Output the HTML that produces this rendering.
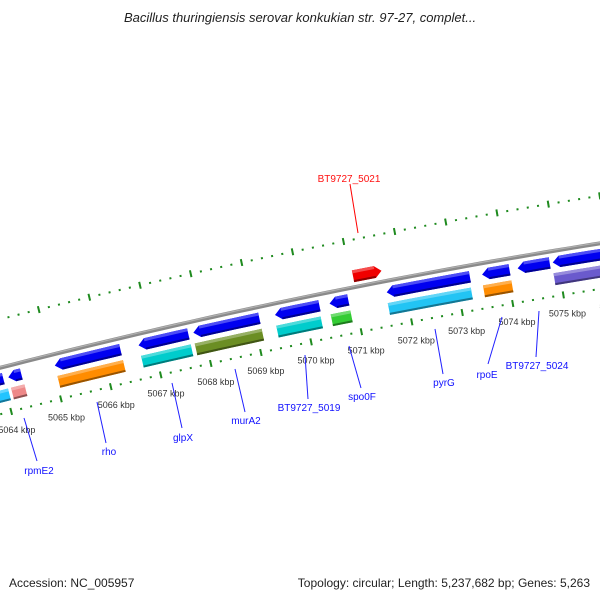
<!DOCTYPE html>
<html><head><meta charset="utf-8"><style>
html,body{margin:0;padding:0;background:#fff;}
svg{display:block;font-family:"Liberation Sans","DejaVu Sans",sans-serif;}
</style></head><body>
<svg id="map" width="600" height="600" viewBox="0 0 600 600" xmlns="http://www.w3.org/2000/svg">
<rect width="600" height="600" fill="#fff"/>
<text x="300" y="22" text-anchor="middle" font-size="13" font-style="italic" fill="#222">Bacillus thuringiensis serovar konkukian str. 97-27, complet...</text>
<g id="ticks"></g>
<g id="backbone"></g>
<g id="genes"></g>
<g id="labels" font-size="10" fill="#1010ff">
  <line x1="24" y1="418" x2="37" y2="461" stroke="#2020ff" stroke-width="1"/>
  <text x="39" y="474" text-anchor="middle">rpmE2</text>
  <line x1="97" y1="402" x2="106" y2="443" stroke="#2020ff" stroke-width="1"/>
  <text x="109" y="455" text-anchor="middle">rho</text>
  <line x1="172" y1="383" x2="182" y2="428" stroke="#2020ff" stroke-width="1"/>
  <text x="183" y="441" text-anchor="middle">glpX</text>
  <line x1="235" y1="369" x2="245" y2="412" stroke="#2020ff" stroke-width="1"/>
  <text x="246" y="424" text-anchor="middle">murA2</text>
  <line x1="305" y1="355" x2="308" y2="399" stroke="#2020ff" stroke-width="1"/>
  <text x="309" y="411" text-anchor="middle">BT9727_5019</text>
  <line x1="349" y1="346" x2="361" y2="388" stroke="#2020ff" stroke-width="1"/>
  <text x="362" y="400" text-anchor="middle">spo0F</text>
  <line x1="435" y1="329" x2="443" y2="374" stroke="#2020ff" stroke-width="1"/>
  <text x="444" y="386" text-anchor="middle">pyrG</text>
  <line x1="502" y1="317" x2="488" y2="364" stroke="#2020ff" stroke-width="1"/>
  <text x="487" y="378" text-anchor="middle">rpoE</text>
  <line x1="539" y1="311" x2="536" y2="357" stroke="#2020ff" stroke-width="1"/>
  <text x="537" y="369" text-anchor="middle">BT9727_5024</text>
  <line x1="350" y1="184" x2="358" y2="233" stroke="#ff0000" stroke-width="1"/>
  <text x="349" y="182" text-anchor="middle" fill="#ff1010">BT9727_5021</text>
</g>
<text x="9" y="587" font-size="12" fill="#222">Accession: NC_005957</text>
<text x="590" y="587" font-size="12" fill="#222" text-anchor="end">Topology: circular; Length: 5,237,682 bp; Genes: 5,263</text>
</svg>
<script>
// ---- data (kbp) ----
const revStarts = [5063.4, 5064.11, 5065.04, 5066.71, 5067.80, 5069.42, 5070.50, 5071.63, 5073.51, 5074.21, 5074.90];
const revEnds   = [5064.01, 5064.37, 5066.35, 5067.70, 5069.11, 5070.30, 5070.87, 5073.27, 5074.05, 5074.84, 5076.3];
const featStarts = [5063.4, 5064.11, 5065.04, 5066.71, 5067.78, 5069.40, 5070.48, 5071.61, 5073.49, 5074.88];
const featEnds   = [5064.05, 5064.38, 5066.35, 5067.70, 5069.11, 5070.28, 5070.87, 5073.25, 5074.05, 5076.3];
const featColors = ['#22c4ff','#ee8888','#ff8c00','#00cccc','#6b8e23','#00cccc','#33cc33','#22c4f4','#ff8c00','#6a5acd'];
const fwdStarts = [5071.05];
const fwdEnds   = [5071.61];
const tickLabels = [5064,5065,5066,5067,5068,5069,5070,5071,5072,5073,5074,5075,5076];

// ---- geometry ----
const NS = 'http://www.w3.org/2000/svg';
const CX = 1619, CY = 6663, RB = 6500;
function ang(k){ return (-101.69 + 0.4555*(k-5070))*Math.PI/180; }
function pt(k,d){ const a=ang(k), r=RB-d; return [CX+r*Math.cos(a), CY+r*Math.sin(a)]; }
function mk(tag, parent){ const e=document.createElementNS(NS,tag); parent.appendChild(e); return e; }
function poly(points, fill, parent){
  const p=mk('polygon',parent);
  p.setAttribute('points', points.map(q=>q[0].toFixed(2)+','+q[1].toFixed(2)).join(' '));
  p.setAttribute('fill', fill);
  return p;
}
function arcPts(k0,k1,d){ const n=Math.max(2,Math.ceil((k1-k0)*4)); const out=[]; for(let i=0;i<=n;i++) out.push(pt(k0+(k1-k0)*i/n,d)); return out; }
function shade(hex,f){
  const n=parseInt(hex.slice(1),16); let r=n>>16,g=(n>>8)&255,b=n&255;
  if(f>0){ r+= (255-r)*f; g+=(255-g)*f; b+=(255-b)*f; } else { r*=1+f; g*=1+f; b*=1+f; }
  return 'rgb('+Math.round(r)+','+Math.round(g)+','+Math.round(b)+')';
}
const AH = 0.13;
function feature(k0,k1,d0,d1,color,dir,name){
  const g=mk('g',document.getElementById('genes'));
  
  
  let shape, b0=k0, b1=k1;
  if(dir<0){ b0=k0+AH; shape=[pt(k0,(d0+d1)/2)].concat(arcPts(b0,k1,d0)).concat(arcPts(b0,k1,d1).reverse()); }
  else if(dir>0){ b1=k1-AH; shape=arcPts(k0,b1,d0).concat([pt(k1,(d0+d1)/2)]).concat(arcPts(k0,b1,d1).reverse()); }
  else { shape=arcPts(k0,k1,d0).concat(arcPts(k0,k1,d1).reverse()); }
  poly(shape,color,g);
  poly(arcPts(b0,b1,d0).concat(arcPts(b0,b1,d0+3).reverse()), shade(color,0.3), g);
  poly(arcPts(b0,b1,d1-2).concat(arcPts(b0,b1,d1).reverse()), shade(color,-0.4), g);
}

// backbone
(function(){
  const g=document.getElementById('backbone');
  const a=arcPts(5062.5,5077.5,-2), b=arcPts(5062.5,5077.5,2);
  poly(a.concat(b.slice().reverse()), '#8a8a8a', g);
  const c=arcPts(5062.5,5077.5,-1.5), d=arcPts(5062.5,5077.5,-0.3);
  poly(c.concat(d.reverse()), '#b0b0b0', g);
})();

// ticks
(function(){
  const g=document.getElementById('ticks');
  [45,-47].forEach(function(dl){
    for(let i=0;i<=80;i++){
      const k=5062+i*0.2;
      const major = (i%5===0);
      const h = major?3.5:1;
      const p0=pt(k,dl-h), p1=pt(k,dl+h);
      const l=mk('line',g);
      
      
      l.setAttribute('x1',p0[0]); l.setAttribute('y1',p0[1]);
      l.setAttribute('x2',p1[0]); l.setAttribute('y2',p1[1]);
      l.setAttribute('stroke','#1e8a1e'); l.setAttribute('stroke-width', 2);
    }
  });
  tickLabels.forEach(function(k){
    const p=pt(k,64);
    const t=mk('text',g);
    
    
    t.setAttribute('x',p[0]+1); t.setAttribute('y',p[1]+3);
    t.setAttribute('text-anchor','middle'); t.setAttribute('font-size','9'); t.setAttribute('fill','#333');
    t.textContent=k+' kbp';
  });
})();

// genes
revStarts.forEach(function(s,i){ feature(s,revEnds[i],5.5,17,'#0000f0',-1,'reverse-gene'); });
featStarts.forEach(function(s,i){ feature(s,featEnds[i],22,34,featColors[i],0,'gene-feature'); });
fwdStarts.forEach(function(s,i){ feature(s,fwdEnds[i],-17,-5,'#f00000',1,'forward-gene'); });
</script>
</body></html>
